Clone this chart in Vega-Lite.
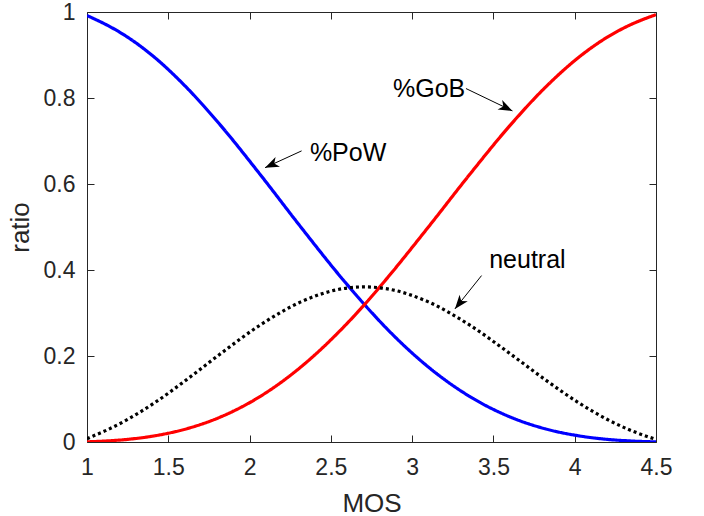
{
  "$schema": "https://vega.github.io/schema/vega-lite/v6.json",
  "width": 569,
  "height": 430,
  "autosize": "none",
  "padding": {"left": 87, "top": 12, "right": 48, "bottom": 74},
  "background": "white",
  "config": {
    "view": {"stroke": null},
    "font": "Liberation Sans",
    "axis": {
      "domainColor": "#262626",
      "domainWidth": 1,
      "tickColor": "#262626",
      "tickWidth": 1,
      "tickSize": -7,
      "labelColor": "#262626",
      "titleColor": "#262626",
      "labelFont": "Liberation Sans",
      "titleFont": "Liberation Sans",
      "labelFontSize": 23,
      "titleFontSize": 26,
      "titleFontWeight": "normal",
      "grid": false
    }
  },
  "datasets": {
    "curves": [
      {"MOS": 1.000, "ratio": 0.9919, "series": "%PoW"},
      {"MOS": 1.035, "ratio": 0.9857, "series": "%PoW"},
      {"MOS": 1.123, "ratio": 0.9696, "series": "%PoW"},
      {"MOS": 1.252, "ratio": 0.9409, "series": "%PoW"},
      {"MOS": 1.416, "ratio": 0.8944, "series": "%PoW"},
      {"MOS": 1.609, "ratio": 0.8258, "series": "%PoW"},
      {"MOS": 1.827, "ratio": 0.7340, "series": "%PoW"},
      {"MOS": 2.064, "ratio": 0.6227, "series": "%PoW"},
      {"MOS": 2.315, "ratio": 0.5000, "series": "%PoW"},
      {"MOS": 2.575, "ratio": 0.3773, "series": "%PoW"},
      {"MOS": 2.707, "ratio": 0.3196, "series": "%PoW"},
      {"MOS": 2.838, "ratio": 0.2660, "series": "%PoW"},
      {"MOS": 3.100, "ratio": 0.1743, "series": "%PoW"},
      {"MOS": 3.355, "ratio": 0.1057, "series": "%PoW"},
      {"MOS": 3.597, "ratio": 0.0591, "series": "%PoW"},
      {"MOS": 3.822, "ratio": 0.0304, "series": "%PoW"},
      {"MOS": 4.024, "ratio": 0.0144, "series": "%PoW"},
      {"MOS": 4.198, "ratio": 0.0062, "series": "%PoW"},
      {"MOS": 4.339, "ratio": 0.0025, "series": "%PoW"},
      {"MOS": 4.441, "ratio": 0.0009, "series": "%PoW"},
      {"MOS": 4.500, "ratio": 0.0003, "series": "%PoW"},
      {"MOS": 1.000, "ratio": 0.0004, "series": "%GoB"},
      {"MOS": 1.035, "ratio": 0.0009, "series": "%GoB"},
      {"MOS": 1.123, "ratio": 0.0025, "series": "%GoB"},
      {"MOS": 1.252, "ratio": 0.0062, "series": "%GoB"},
      {"MOS": 1.416, "ratio": 0.0144, "series": "%GoB"},
      {"MOS": 1.609, "ratio": 0.0304, "series": "%GoB"},
      {"MOS": 1.827, "ratio": 0.0591, "series": "%GoB"},
      {"MOS": 2.064, "ratio": 0.1057, "series": "%GoB"},
      {"MOS": 2.315, "ratio": 0.1743, "series": "%GoB"},
      {"MOS": 2.575, "ratio": 0.2660, "series": "%GoB"},
      {"MOS": 2.707, "ratio": 0.3196, "series": "%GoB"},
      {"MOS": 2.838, "ratio": 0.3773, "series": "%GoB"},
      {"MOS": 3.100, "ratio": 0.5000, "series": "%GoB"},
      {"MOS": 3.355, "ratio": 0.6227, "series": "%GoB"},
      {"MOS": 3.597, "ratio": 0.7340, "series": "%GoB"},
      {"MOS": 3.822, "ratio": 0.8258, "series": "%GoB"},
      {"MOS": 4.024, "ratio": 0.8944, "series": "%GoB"},
      {"MOS": 4.198, "ratio": 0.9409, "series": "%GoB"},
      {"MOS": 4.339, "ratio": 0.9696, "series": "%GoB"},
      {"MOS": 4.441, "ratio": 0.9857, "series": "%GoB"},
      {"MOS": 4.500, "ratio": 0.9938, "series": "%GoB"},
      {"MOS": 1.000, "ratio": 0.0077, "series": "neutral"},
      {"MOS": 1.035, "ratio": 0.0135, "series": "neutral"},
      {"MOS": 1.123, "ratio": 0.0279, "series": "neutral"},
      {"MOS": 1.252, "ratio": 0.0529, "series": "neutral"},
      {"MOS": 1.416, "ratio": 0.0913, "series": "neutral"},
      {"MOS": 1.609, "ratio": 0.1439, "series": "neutral"},
      {"MOS": 1.827, "ratio": 0.2069, "series": "neutral"},
      {"MOS": 2.064, "ratio": 0.2717, "series": "neutral"},
      {"MOS": 2.315, "ratio": 0.3258, "series": "neutral"},
      {"MOS": 2.575, "ratio": 0.3567, "series": "neutral"},
      {"MOS": 2.707, "ratio": 0.3607, "series": "neutral"},
      {"MOS": 2.838, "ratio": 0.3567, "series": "neutral"},
      {"MOS": 3.100, "ratio": 0.3258, "series": "neutral"},
      {"MOS": 3.355, "ratio": 0.2717, "series": "neutral"},
      {"MOS": 3.597, "ratio": 0.2069, "series": "neutral"},
      {"MOS": 3.822, "ratio": 0.1439, "series": "neutral"},
      {"MOS": 4.024, "ratio": 0.0913, "series": "neutral"},
      {"MOS": 4.198, "ratio": 0.0529, "series": "neutral"},
      {"MOS": 4.339, "ratio": 0.0279, "series": "neutral"},
      {"MOS": 4.441, "ratio": 0.0135, "series": "neutral"},
      {"MOS": 4.500, "ratio": 0.0059, "series": "neutral"}
    ],
    "arrows": [
      {"x1": 2.320, "y1": 0.677, "x2": 2.095, "y2": 0.638, "angle": 245.5},
      {"x1": 3.331, "y1": 0.822, "x2": 3.617, "y2": 0.770, "angle": 116},
      {"x1": 3.427, "y1": 0.387, "x2": 3.263, "y2": 0.3095, "angle": 218.7}
    ],
    "labels": [
      {"text": "%PoW", "x": 2.371, "y": 0.671},
      {"text": "%GoB", "x": 2.882, "y": 0.822},
      {"text": "neutral", "x": 3.474, "y": 0.424}
    ]
  },
  "resolve": {"axis": {"x": "independent", "y": "independent"}},
  "layer": [
    {
      "data": {"name": "curves"},
      "mark": {"type": "line", "strokeWidth": 3.2, "interpolate": "monotone", "clip": true},
      "encoding": {
        "x": {
          "field": "MOS", "type": "quantitative",
          "scale": {"domain": [1, 4.5], "nice": false, "zero": false},
          "axis": {"values": [1, 1.5, 2, 2.5, 3, 3.5, 4, 4.5], "format": "~g", "title": "MOS", "labelPadding": 21, "titlePadding": 11, "labelFlush": false, "labelOverlap": false}
        },
        "y": {
          "field": "ratio", "type": "quantitative",
          "scale": {"domain": [0, 1], "nice": false},
          "axis": {"values": [0, 0.2, 0.4, 0.6, 0.8, 1], "format": "~g", "title": "ratio", "labelPadding": 19, "titlePadding": 10, "labelFlush": false, "labelOverlap": false}
        },
        "color": {
          "field": "series", "type": "nominal",
          "scale": {"domain": ["%GoB", "%PoW", "neutral"], "range": ["#FF0000", "#0000FF", "#000000"]},
          "legend": null
        },
        "strokeDash": {
          "field": "series", "type": "nominal",
          "scale": {"domain": ["%GoB", "%PoW", "neutral"], "range": [[1, 0], [1, 0], [3, 3]]},
          "legend": null
        },
        "order": {"field": "MOS", "type": "quantitative"}
      }
    },
    {
      "data": {"name": "arrows"},
      "mark": {"type": "rule", "color": "#000000", "strokeWidth": 1},
      "encoding": {
        "x": {
          "field": "x1", "type": "quantitative",
          "scale": {"domain": [1, 4.5], "nice": false, "zero": false},
          "axis": {"orient": "top", "values": [1, 1.5, 2, 2.5, 3, 3.5, 4, 4.5], "labels": false, "title": null}
        },
        "y": {
          "field": "y1", "type": "quantitative",
          "scale": {"domain": [0, 1], "nice": false},
          "axis": {"orient": "right", "values": [0, 0.2, 0.4, 0.6, 0.8, 1], "labels": false, "title": null}
        },
        "x2": {"field": "x2"},
        "y2": {"field": "y2"}
      }
    },
    {
      "data": {"name": "arrows"},
      "mark": {"type": "point", "shape": "M0,0 L0.75,2 L0,1.45 L-0.75,2 Z", "filled": true, "color": "#000000", "size": 196, "opacity": 1, "strokeWidth": 0},
      "encoding": {
        "x": {"field": "x2", "type": "quantitative", "axis": null},
        "y": {"field": "y2", "type": "quantitative", "axis": null},
        "angle": {"field": "angle", "type": "quantitative", "scale": null}
      }
    },
    {
      "data": {"name": "labels"},
      "mark": {"type": "text", "align": "left", "baseline": "middle", "fontSize": 25, "font": "Liberation Sans", "color": "#000000"},
      "encoding": {
        "x": {"field": "x", "type": "quantitative", "axis": null},
        "y": {"field": "y", "type": "quantitative", "axis": null},
        "text": {"field": "text"}
      }
    }
  ]
}
